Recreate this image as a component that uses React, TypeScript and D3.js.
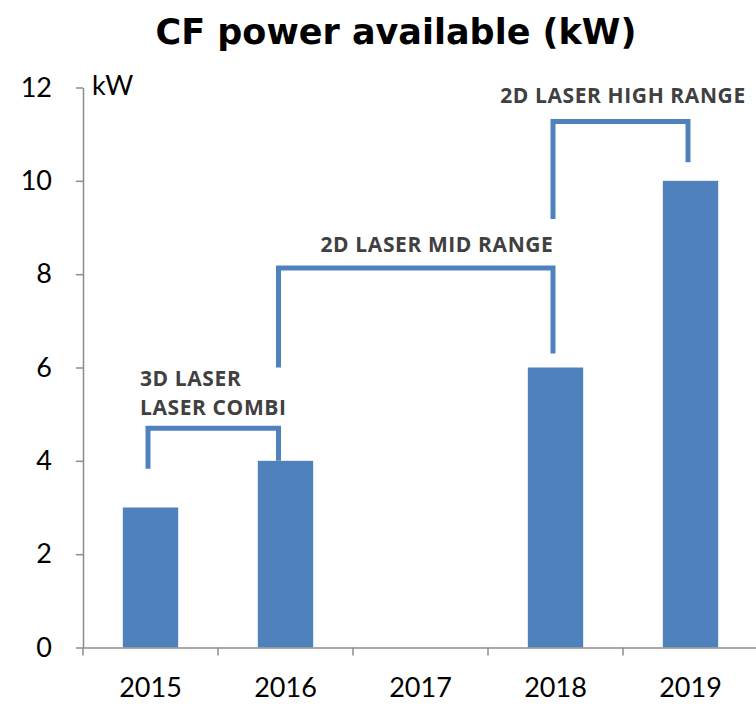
import React, { useEffect, useRef } from "react";
import * as d3 from "d3";

const years = ["2015", "2016", "2017", "2018", "2019"];
const powerKw = [3, 4, 0, 6, 10];
const yTicks = [0, 2, 4, 6, 8, 10, 12];

// bracket annotations: from year / to year, leg heights and bar height in kW
const bracketLabels = [["3D LASER", "LASER COMBI"], ["2D LASER MID RANGE"], ["2D LASER HIGH RANGE"]];
const bracketFrom = ["2015", "2016", "2018"];
const bracketTo = ["2016", "2018", "2019"];
const bracketLeftLow = [3.83, 6.0, 9.18];
const bracketTop = [4.7, 8.13, 11.27];
const bracketRightLow = [4.0, 6.3, 10.4];

const W = 756;
const H = 704;

const App = () => {
  const ref = useRef<SVGSVGElement>(null);

  useEffect(() => {
    const svg = d3.select(ref.current);
    svg.selectAll("*").remove();

    const left = 83;
    const x = d3.scaleBand().domain(years).range([left, left + 135 * 5]).paddingInner(0.59).paddingOuter(0.295);
    const xc = (d: string) => (x(d) as number) + x.bandwidth() / 2;
    // legs sit a bit left of bar centres, more so on 2016
    const legX = (d: string) => xc(d) - (d === "2016" ? 7 : 2.5);
    const y = d3.scaleLinear().domain([0, 12]).range([647.5, 87.5]);

    svg.append("text")
      .attr("x", 396).attr("y", 44)
      .attr("text-anchor", "middle")
      .attr("font-family", "DejaVu Sans")
      .attr("font-weight", "bold")
      .attr("font-size", 35)
      .text("CF power available (kW)");

    // bars
    svg.selectAll("rect.bar")
      .data(powerKw)
      .enter()
      .append("rect")
      .attr("class", "bar")
      .attr("x", (d, i) => x(years[i]) as number)
      .attr("width", x.bandwidth())
      .attr("y", (d) => y(d))
      .attr("height", (d) => y(0) - y(d))
      .attr("fill", "#4F81BD");

    // y axis
    const yAxis = svg.append("g")
      .attr("transform", `translate(${left},0)`)
      .call(d3.axisLeft(y).tickValues(yTicks).tickSize(7).tickSizeOuter(0).tickPadding(24));
    yAxis.select(".domain").attr("stroke", "#8c8c8c").attr("stroke-width", 1.5);
    yAxis.selectAll(".tick line").attr("stroke", "#8c8c8c").attr("stroke-width", 1.5);
    yAxis.selectAll(".tick text")
      .attr("font-family", "Lato")
      .attr("font-size", 27)
      .attr("fill", "#000");

    // x axis
    const xAxis = svg.append("g")
      .attr("transform", `translate(0,${y(0)})`)
      .call(d3.axisBottom(x).tickSize(0).tickPadding(30));
    xAxis.select(".domain").attr("stroke", "#8c8c8c").attr("stroke-width", 1.5);
    xAxis.selectAll(".tick text")
      .attr("font-family", "Lato")
      .attr("font-size", 27)
      .attr("fill", "#000");
    svg.append("g")
      .selectAll("line")
      .data(years)
      .enter()
      .append("line")
      .attr("x1", (d) => (x(d) as number) - x.step() * x.paddingOuter())
      .attr("x2", (d) => (x(d) as number) - x.step() * x.paddingOuter())
      .attr("y1", y(0))
      .attr("y2", y(0) + 8)
      .attr("stroke", "#8c8c8c")
      .attr("stroke-width", 1.5);

    svg.append("text")
      .attr("x", 92).attr("y", 95)
      .attr("font-family", "Lato")
      .attr("font-size", 27)
      .text("kW");

    // brackets
    const line = d3.line<[number, number]>();
    bracketFrom.forEach((from, i) => {
      const x1 = legX(from);
      const x2 = legX(bracketTo[i]);
      const pts: [number, number][] = [
        [x1, y(bracketLeftLow[i])],
        [x1, y(bracketTop[i])],
        [x2, y(bracketTop[i])],
        [x2, y(bracketRightLow[i])],
      ];
      svg.append("path")
        .attr("d", line(pts))
        .attr("fill", "none")
        .attr("stroke", "#4F81BD")
        .attr("stroke-width", 5);
    });

    // bracket labels
    const labelX = [140, 437, 623];
    const labelAnchor = ["start", "middle", "middle"];
    const labelY = [386, 252, 103];
    bracketLabels.forEach((lines, i) => {
      const t = svg.append("text")
        .attr("x", labelX[i])
        .attr("y", labelY[i])
        .attr("text-anchor", labelAnchor[i])
        .attr("font-family", "Open Sans")
        .attr("font-weight", "bold")
        .attr("font-size", 21)
        .attr("letter-spacing", 0.6)
        .attr("fill", "#404040");
      lines.forEach((s, j) => {
        t.append("tspan").attr("x", labelX[i]).attr("dy", j === 0 ? 0 : 29).text(s);
      });
    });
  }, []);

  return (
    <svg ref={ref} width={W} height={H} style={{ position: "absolute", left: 0, top: 0, background: "#fff" }} />
  );
};

export default App;
